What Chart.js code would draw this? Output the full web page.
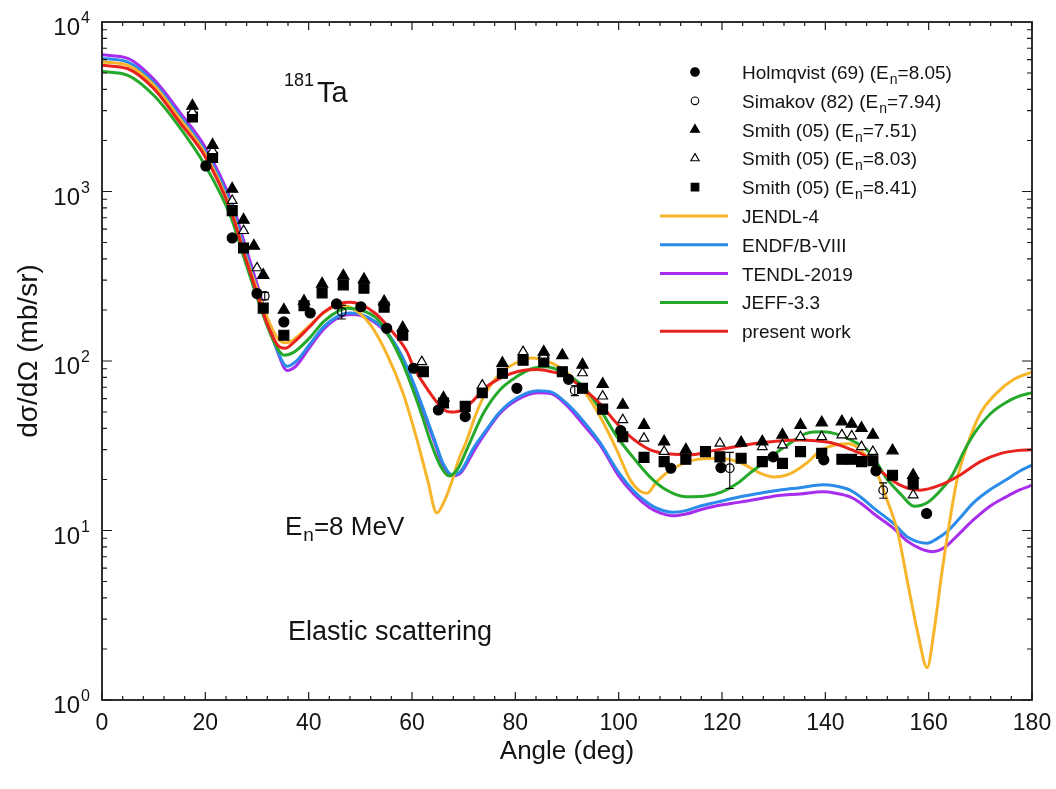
<!DOCTYPE html>
<html>
<head>
<meta charset="utf-8">
<script src="https://cdn.jsdelivr.net/npm/chart.js@4.4.1/dist/chart.umd.min.js"></script>
<style>
  html, body { margin: 0; padding: 0; background: #ffffff; }
  #wrap { width: 1056px; height: 789px; }
</style>
</head>
<body>
<div id="wrap"><canvas id="xs" width="1056" height="789"></canvas></div>
<script>
// Axis tick values
const angleTicks = [0, 20, 40, 60, 80, 100, 120, 140, 160, 180];
const decadeTicks = [1, 10, 100, 1000, 10000];
const decadeExponents = ['0', '1', '2', '3', '4'];

// Evaluated elastic angular distributions, [angle (deg), dσ/dΩ (mb/sr)]
const jendl4 = [[0,5800],[5,5550],[10,4250],[15,2700],[20,1660],[25,780],[27.5,440],[30,265],[32,180],[34,136],[35.5,128],[37,133],[40,160],[43,193],[46,213],[49,200],[52,163],[55,112],[58.3,64],[61,34],[63,20],[64.8,12.7],[66.3,15],[67.6,19],[69,26],[70.6,34],[72.2,47],[73.8,61],[77,84],[80.3,98],[83.3,104],[86,100],[88.6,92],[91,80],[93.2,67],[96.4,47],[99.6,30],[102.2,20],[104,17.2],[105.5,16.6],[107.4,19.5],[110.6,23.3],[114.4,26],[119,26.7],[123.5,25.2],[127.4,21.8],[130,20.7],[133,21.5],[136.4,25],[139,29.5],[142,32],[144.5,32.5],[147,29.5],[150,21.8],[152,15],[154,9.8],[156,4.8],[158,2.4],[159.7,1.55],[161,2.5],[162.5,5.5],[164,11],[165.5,20],[167.5,32],[170,49],[173,64],[176.5,78],[180,86]];
const endfb8 = [[0,6100],[5,5800],[10,4400],[15,2800],[20,1720],[25,830],[27.5,470],[30,265],[32,170],[34,114],[35.8,93],[37.5,99],[40,123],[43,160],[46,186],[48,192],[50,189],[53,170],[55,150],[58,108],[60.3,74],[62,54],[64.4,34],[66,25],[67.8,21.3],[69.5,22.5],[72,31],[73.8,37],[77,50],[80.3,60.5],[84.4,66.8],[87,65.5],[90,56],[93.2,44],[96.4,33],[100,22],[103,17],[106,14.3],[108,13.3],[110.5,12.8],[113,13.1],[116,14],[119,14.7],[123.5,15.8],[127.3,16.6],[131,17.3],[135.1,17.9],[139.5,18.6],[142,18.3],[144.8,17.3],[147,15.6],[149.3,13.6],[153.2,11],[155.8,9.2],[157.8,8.6],[159.7,8.4],[161.5,8.9],[163.5,9.8],[166,11.8],[168.6,14.5],[172,17.5],[175,19.9],[177.5,22.3],[180,24.3]];
const tendl2019 = [[0,6400],[5,6100],[10,4600],[15,2950],[20,1820],[25,880],[27.5,505],[30,285],[32,176],[34,113],[35.8,88],[37.5,93],[40,118],[43,155],[46,182],[48.3,188],[50,186],[53,167],[55,147],[58,105],[60.3,71],[62,52],[64.4,33],[66,24],[67.8,21],[69.5,22],[72,29.5],[73.8,36],[77,49],[80.3,59],[84.4,65],[87,64],[90,54.5],[93.2,42],[96.4,32],[100,21],[103,16.3],[106,13.6],[108,12.7],[110.5,12.2],[113,12.5],[116,13.3],[119,14],[123.5,14.7],[127.3,15.4],[131,16.1],[135.1,16.4],[139.5,16.9],[142,16.6],[144.8,15.8],[147,14.4],[149.3,12.6],[153.2,10.3],[156,8.6],[158.5,7.8],[160.8,7.5],[163,7.9],[165.5,9.3],[168.6,11.5],[172,14],[175,15.8],[177.5,17.3],[180,18.5]];
const jeff33 = [[0,5100],[5,4850],[10,3700],[15,2400],[20,1420],[25,700],[27.5,405],[30,238],[32,160],[34,118],[35.3,108],[37,112],[40,135],[43,172],[46,199],[47.5,205],[50,200],[53,180],[55,150],[58,100],[60.3,66],[62,47],[63.5,34],[65.5,24],[67.2,21],[69,23.5],[70.6,30],[73.8,49],[77,67.5],[80.3,81],[83.5,90.6],[86,92.5],[90,83],[93.2,70.5],[96.4,52],[99.6,36],[102.8,27],[106,20.8],[109,17.5],[113,15.8],[116.5,15.9],[120,16.9],[123,19],[125.4,21.8],[128,25],[130,28],[133,32.5],[136.4,37.5],[139.5,38.2],[142.8,36.5],[145.5,33.5],[148,30],[150,25],[152,20],[154.5,16.5],[157.2,13.9],[160,14.8],[162.5,17.5],[164.5,21],[167,30],[169,38],[172,49],[175,57],[177.5,62],[180,65]];
const presentWork = [[0,5550],[5,5300],[10,4050],[15,2570],[20,1600],[25,760],[27.5,430],[30,250],[32,165],[34,124],[35.5,119],[37,128],[40,157],[43,195],[46,218],[48,222],[50,216],[53,190],[55.7,155],[59,114],[60.3,92],[62.2,74],[64.1,61],[66,52],[67.5,50],[69.9,51.5],[72,59],[73.8,68],[77,79],[80.3,86.5],[84.1,89],[87,86.5],[90,81],[93,69],[96.4,56],[99,45],[101.5,37.4],[106,30],[110,28.3],[114,28],[118,29.5],[122,31],[126,32.5],[130,33.5],[135.1,34.2],[138,33.8],[141.5,32.7],[145,30],[148,27.2],[151.2,21.8],[154.5,18.5],[158.3,17.3],[162.2,18.5],[166,21.2],[170,25.5],[174,28.5],[177,29.6],[180,30]];

// Measurements, [angle (deg), dσ/dΩ (mb/sr)]
const holmqvist69 = [[20.1,1415],[25.2,532],[30.0,250],[35.2,170],[40.3,192],[45.4,217],[50.1,209],[55.1,156],[60.3,90.6],[65.1,51.4],[70.3,47],[80.3,69],[90.3,78],[100.4,38.8],[110.1,23.3],[119.8,23.5],[129.9,27.2],[139.7,26.1],[149.8,22.5],[159.6,12.6]];
const simakov82 = [[31.5,242],[46.4,195],[91.5,67],[121.5,23.3],[151.2,17.3]];
const simakov82Err = [12, 18, 4.5, 5.6, 1.8];
const smith751 = [[17.5,3200],[21.4,1880],[25.2,1035],[27.4,679],[29.4,477],[31.2,321],[35.2,200],[39.1,225],[42.6,285],[46.7,318],[50.7,303],[54.6,224],[58.2,157],[66.1,60.5],[77.5,97],[85.5,113],[89.1,108],[93.0,95],[96.9,73],[100.8,55],[104.9,41.9],[108.8,33.4],[113.0,29.9],[123.7,33],[127.8,33.4],[131.7,36.6],[135.2,41.9],[139.3,43.3],[143.2,43.9],[145.1,42.5],[147.0,40.1],[149.2,36.6],[153.0,29.6],[157.0,21.2]];
const smith803 = [[17.5,2950],[21.4,1740],[25.2,883],[27.4,587],[30.0,354],[61.9,99],[73.6,72],[81.5,113.5],[85.5,108],[93.0,85],[96.9,62],[100.8,45],[104.9,35],[108.8,29.2],[119.6,32.7],[123.7,32.7],[127.8,31.2],[131.7,31.9],[135.2,35.7],[139.3,35.7],[143.2,36.6],[145.1,36.1],[147.0,31.2],[149.2,29.2],[157.0,16.2]];
const smith841 = [[17.5,2750],[21.4,1590],[25.2,771],[27.4,464],[31.2,205],[35.2,142],[39.1,212],[42.6,252],[46.7,281],[50.7,269],[54.6,208],[58.2,142],[62.2,86.5],[66.1,56.5],[70.3,54],[73.6,65],[77.5,84.6],[81.5,101],[85.5,99],[89.1,86.5],[93.0,69],[96.9,52],[100.8,35.7],[104.9,27],[108.8,25.5],[113.0,26.3],[116.8,29.2],[119.6,27.2],[123.7,26.7],[127.8,25.5],[131.7,24.9],[135.2,29.2],[139.3,28.5],[143.2,26.3],[145.1,26.3],[147.0,25.5],[149.2,25.8],[153.0,21.2],[157.0,18.8]];

const FONT = '"Liberation Sans", Arial, Helvetica, sans-serif';
const INK = '#141414';

const toXY = pairs => pairs.map(p => ({ x: p[0], y: p[1] }));

function curve(label, data, color, order) {
  return {
    label, data: toXY(data), type: 'line', order,
    borderColor: color, borderWidth: 3, pointRadius: 0,
    cubicInterpolationMode: 'monotone', fill: false, showLine: true
  };
}
function marks(label, data, style, radius, fillColor) {
  return {
    label, data: toXY(data), type: 'scatter', order: 0, showLine: false,
    pointStyle: style, pointRadius: radius, pointHoverRadius: radius,
    backgroundColor: fillColor, borderColor: '#000', borderWidth: 1.2
  };
}

// Legend entries, drawn inside the plot
const legendRows = [
  { kind: 'mark', style: 'circle', r: 4.3, fill: '#000', text: ['Holmqvist (69) (E', 'n', '=8.05)'] },
  { kind: 'mark', style: 'circle', r: 3.8, fill: '#fff', text: ['Simakov (82) (E', 'n', '=7.94)'] },
  { kind: 'mark', style: 'triangle', r: 5.2, fill: '#000', text: ['Smith (05) (E', 'n', '=7.51)'] },
  { kind: 'mark', style: 'triangle', r: 4.8, fill: '#fff', text: ['Smith (05) (E', 'n', '=8.03)'] },
  { kind: 'mark', style: 'rect', r: 5.4, fill: '#000', text: ['Smith (05) (E', 'n', '=8.41)'] },
  { kind: 'line', color: '#F7B52C', text: ['JENDL-4'] },
  { kind: 'line', color: '#2A8BEA', text: ['ENDF/B-VIII'] },
  { kind: 'line', color: '#A82CEE', text: ['TENDL-2019'] },
  { kind: 'line', color: '#25A92A', text: ['JEFF-3.3'] },
  { kind: 'line', color: '#E8231E', text: ['present work'] }
];

// Text with an optional subscript part: [before, sub, after]
function drawSubText(ctx, parts, x, y, size, subSize, drop) {
  ctx.textAlign = 'left';
  ctx.textBaseline = 'alphabetic';
  ctx.font = size + 'px ' + FONT;
  ctx.fillText(parts[0], x, y);
  let cx = x + ctx.measureText(parts[0]).width;
  if (parts.length > 1) {
    ctx.font = subSize + 'px ' + FONT;
    ctx.fillText(parts[1], cx + 1, y + drop);
    cx += ctx.measureText(parts[1]).width + 1;
    ctx.font = size + 'px ' + FONT;
    ctx.fillText(parts[2], cx, y);
  }
}

const errorBars = {
  id: 'errorBars',
  afterDatasetsDraw(chart) {
    const { ctx, scales: { x, y } } = chart;
    ctx.save();
    ctx.strokeStyle = '#000';
    ctx.lineWidth = 1.1;
    simakov82.forEach((p, i) => {
      const px = x.getPixelForValue(p[0]);
      const top = y.getPixelForValue(p[1] + simakov82Err[i]);
      const bot = y.getPixelForValue(p[1] - simakov82Err[i]);
      ctx.beginPath();
      ctx.moveTo(px, top); ctx.lineTo(px, bot);
      ctx.moveTo(px - 4, top); ctx.lineTo(px + 4, top);
      ctx.moveTo(px - 4, bot); ctx.lineTo(px + 4, bot);
      ctx.stroke();
    });
    ctx.restore();
  }
};

const frameAndText = {
  id: 'frameAndText',
  afterDraw(chart) {
    const { ctx, chartArea: a, scales: { x, y } } = chart;
    ctx.save();
    ctx.strokeStyle = '#1a1a1a';
    ctx.fillStyle = INK;

    // inward ticks on all four sides
    ctx.lineWidth = 1.2;
    ctx.beginPath();
    for (let v = 0; v <= 180; v += 4) {
      const px = x.getPixelForValue(v);
      const len = (v % 20 === 0) ? 8 : 4;
      ctx.moveTo(px, a.bottom); ctx.lineTo(px, a.bottom - len);
      ctx.moveTo(px, a.top); ctx.lineTo(px, a.top + len);
    }
    for (let d = 1; d < 10000; d *= 10) {
      for (let k = 1; k <= 9; k++) {
        const py = y.getPixelForValue(d * k);
        const len = k === 1 ? 10 : 5;
        ctx.moveTo(a.left, py); ctx.lineTo(a.left + len, py);
        ctx.moveTo(a.right, py); ctx.lineTo(a.right - len, py);
      }
    }
    ctx.stroke();

    // plot frame
    ctx.lineWidth = 1.8;
    ctx.strokeRect(a.left, a.top, a.width, a.height);

    // x tick labels
    ctx.font = '23px ' + FONT;
    ctx.textAlign = 'center';
    ctx.textBaseline = 'alphabetic';
    angleTicks.forEach(v => {
      ctx.fillText(String(v), x.getPixelForValue(v), a.bottom + 30);
    });

    // y tick labels: 10 with superscript exponent
    decadeTicks.forEach((v, i) => {
      const py = y.getPixelForValue(v);
      ctx.font = '24px ' + FONT;
      ctx.textAlign = 'right';
      ctx.textBaseline = 'alphabetic';
      ctx.fillText('10', 80, py + 13);
      ctx.font = '16px ' + FONT;
      ctx.textAlign = 'left';
      ctx.fillText(decadeExponents[i], 81, py + 1);
    });

    // axis titles
    ctx.font = '26px ' + FONT;
    ctx.textAlign = 'center';
    ctx.textBaseline = 'alphabetic';
    ctx.fillText('Angle (deg)', (a.left + a.right) / 2, 759);
    ctx.save();
    ctx.translate(37, 351);
    ctx.rotate(-Math.PI / 2);
    ctx.font = '28px ' + FONT;
    ctx.fillText('dσ/dΩ (mb/sr)', 0, 0);
    ctx.restore();

    // annotations
    ctx.textAlign = 'left';
    ctx.font = '18px ' + FONT;
    ctx.fillText('181', 284, 86);
    ctx.font = '29px ' + FONT;
    ctx.fillText('Ta', 317, 102);
    drawSubText(ctx, ['E', 'n', '=8 MeV'], 285, 535, 26, 19, 6);
    ctx.font = '27px ' + FONT;
    ctx.fillText('Elastic scattering', 288, 640);

    // legend
    const helpers = Chart.helpers;
    legendRows.forEach((row, i) => {
      const cy = 72 + i * 28.8;
      if (row.kind === 'mark') {
        ctx.fillStyle = row.fill;
        ctx.strokeStyle = '#000';
        ctx.lineWidth = 1.1;
        helpers.drawPoint(ctx, { pointStyle: row.style, radius: row.r, rotation: 0, borderWidth: 1.1 }, 695, cy);
      } else {
        ctx.strokeStyle = row.color;
        ctx.lineWidth = 3;
        ctx.beginPath();
        ctx.moveTo(660, cy); ctx.lineTo(728, cy);
        ctx.stroke();
      }
      ctx.fillStyle = INK;
      drawSubText(ctx, row.text, 742, cy + 7, 19, 14, 5);
    });

    ctx.restore();
  }
};

new Chart(document.getElementById('xs'), {
  type: 'scatter',
  data: {
    datasets: [
      marks('Holmqvist (69) (En=8.05)', holmqvist69, 'circle', 5, '#000'),
      marks('Simakov (82) (En=7.94)', simakov82, 'circle', 4.3, 'rgba(255,255,255,0)'),
      marks('Smith (05) (En=7.51)', smith751, 'triangle', 6.5, '#000'),
      marks('Smith (05) (En=8.03)', smith803, 'triangle', 5.6, '#fff'),
      marks('Smith (05) (En=8.41)', smith841, 'rect', 7, '#000'),
      curve('JENDL-4', jendl4, '#F7B52C', 3),
      curve('ENDF/B-VIII', endfb8, '#2A8BEA', 4),
      curve('TENDL-2019', tendl2019, '#A82CEE', 5),
      curve('JEFF-3.3', jeff33, '#25A92A', 2),
      curve('present work', presentWork, '#E8231E', 1)
    ]
  },
  options: {
    responsive: false,
    animation: false,
    devicePixelRatio: 1,
    layout: { padding: { left: 102, top: 22, right: 24, bottom: 89 } },
    plugins: { legend: { display: false }, tooltip: { enabled: false } },
    scales: {
      x: { type: 'linear', min: 0, max: 180, display: false },
      y: { type: 'logarithmic', min: 1, max: 10000, display: false }
    }
  },
  plugins: [errorBars, frameAndText]
});
</script>
</body>
</html>
